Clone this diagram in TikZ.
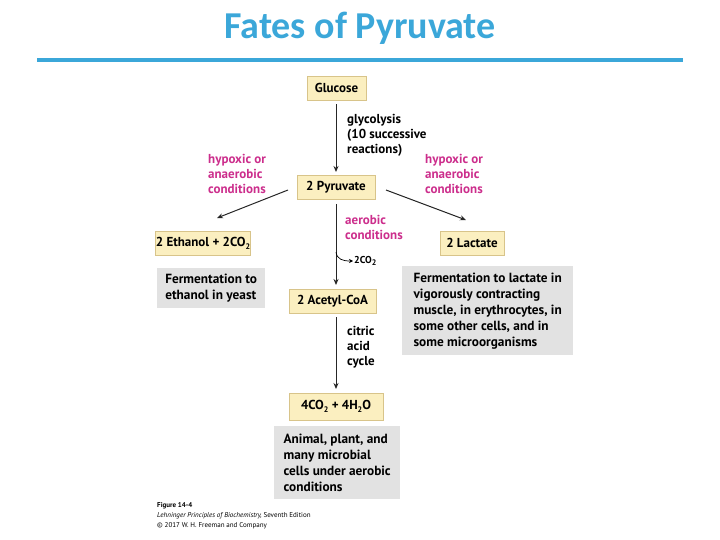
\documentclass[tikz,border=0pt]{standalone}
\usepackage{fontspec}
\setmainfont{PT Sans}
\newfontfamily\titlefont{Carlito}
\usetikzlibrary{arrows.meta}
\definecolor{ttl}{HTML}{3BA7D9}
\definecolor{yel}{HTML}{FBEFC0}
\definecolor{yelb}{HTML}{D8C48A}
\definecolor{gry}{HTML}{E2E2E2}
\definecolor{mag}{HTML}{CC2E8C}
\newcommand\lowsub[1]{\raisebox{-0.25em}{\fontsize{8}{8}\selectfont #1}}
\tikzset{
 prod/.style={draw=yelb,fill=yel,line width=0.8pt,font=\bfseries\fontsize{13}{15}\selectfont,inner sep=0pt,minimum height=24pt},
 note/.style={fill=gry,font=\bfseries\fontsize{13.3}{16}\selectfont,align=left,inner sep=5pt,anchor=north west},
 lab/.style={font=\bfseries\fontsize{13}{15}\selectfont,align=left,anchor=north west,inner sep=0pt},
 arr/.style={-{Stealth[length=6pt,width=5pt]},line width=1pt,black!85}
}
\begin{document}
\begin{tikzpicture}[x=1pt,y=-1pt]
\useasboundingbox (0,0) rectangle (720,540);
\node[font=\titlefont\bfseries\fontsize{38}{40}\selectfont,text=ttl] (title) at (360,28) {Fates of Pyruvate};
\draw[ttl,line width=4pt] (37,60) -- (683,60);
\node[prod,minimum width=59pt] (glu) at (336.5,88) {Glucose};
\node[prod,minimum width=78pt] (pyr) at (336,187.5) {2 Pyruvate};
\node[prod,minimum width=92pt] (eth) at (203,243.5) {2 Ethanol + 2CO\lowsub{2}};
\node[prod,minimum width=64pt] (lac) at (472,243) {2 Lactate};
\node[prod,minimum width=87pt] (aca) at (332.5,301) {2 Acetyl-CoA};
\node[prod,minimum width=94pt,minimum height=27pt] (co2) at (336,406.5) {4CO\lowsub{2} + 4H\lowsub{2}O};
\node[note,minimum width=108pt,minimum height=40pt] (n1) at (157,268) {Fermentation to\\ethanol in yeast};
\node[note,minimum width=171pt,minimum height=89pt] (n2) at (402,266) {Fermentation to lactate in\\vigorously contracting\\muscle, in erythrocytes, in\\some other cells, and in\\some microorganisms};
\node[note,minimum width=126pt,minimum height=73pt] (n3) at (274,426) {Animal, plant, and\\many microbial\\cells under aerobic\\conditions};
\draw[arr] (glu.south -| 336,0) ++(0,4) -- (336,172);
\draw[arr] (336,204) -- (336,285);
\draw[arr] (336,317) -- (336,389);
\draw[arr] (288,190) -- (217,218);
\draw[arr] (386,190) -- (466,220);
\coordinate (c2) at (353,261);
\draw[-{Stealth[length=4pt,width=4pt]},line width=0.7pt] (336,252) .. controls (337,259) and (342,261) .. (c2);
\node[font=\bfseries\fontsize{10}{11}\selectfont,anchor=west,inner sep=1pt] (c2t) at (c2) {2CO\lowsub{2}};
\node[lab] (gl) at (347,114) {glycolysis\\(10 successive\\reactions)};
\node[lab,text=mag] (h1) at (208,154) {hypoxic or\\anaerobic\\conditions};
\node[lab,text=mag] (h2) at (425,154) {hypoxic or\\anaerobic\\conditions};
\node[lab,text=mag] (ae) at (345,215) {aerobic\\conditions};
\node[lab] (cac) at (347,326) {citric\\acid\\cycle};
\node[anchor=north west,align=left,inner sep=0pt,font=\fontsize{7}{10}\selectfont] (cap) at (157,502) {\textbf{Figure 14-4}\\\textit{Lehninger Principles of Biochemistry,} Seventh Edition\\\textcopyright{} 2017 W. H. Freeman and Company};
\end{tikzpicture}
\end{document}
